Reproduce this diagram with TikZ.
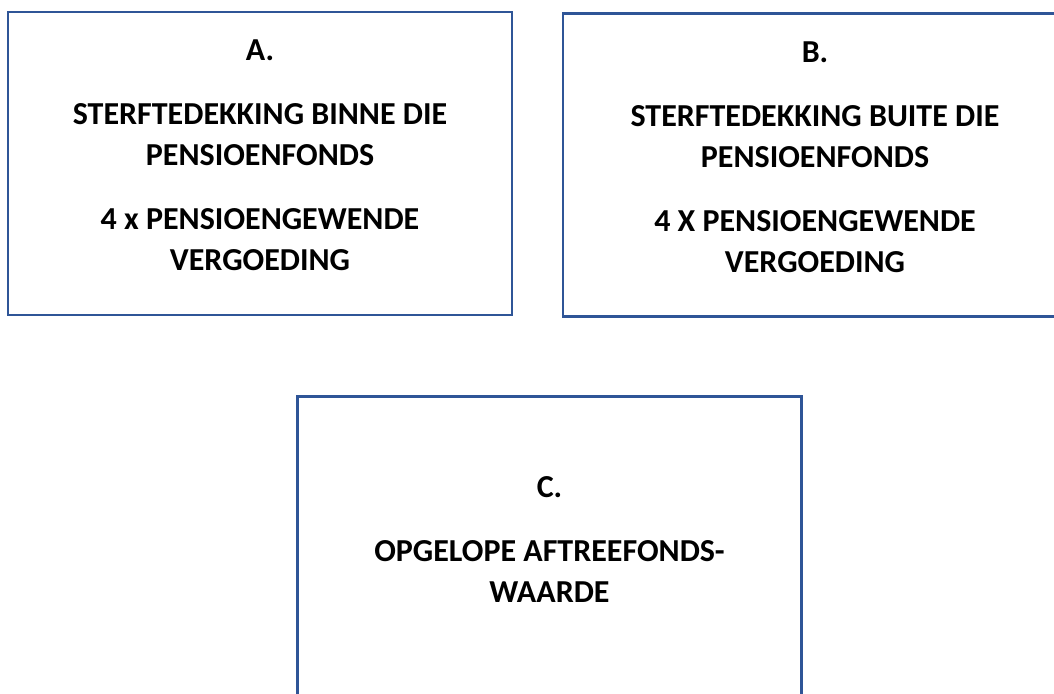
\documentclass[tikz,border=0pt]{standalone}
\usepackage{fontspec}
\setmainfont{Carlito}
\usetikzlibrary{positioning}
\definecolor{boxblue}{HTML}{2F5597}
\tikzstyle{frame} = [rectangle, draw=boxblue, line width=2.6pt, minimum width=504pt, minimum height=303pt, inner sep=0pt, outer sep=0pt]
\tikzstyle{label} = [align=center, inner sep=0pt, font=\bfseries\fontsize{32}{41}\selectfont]

\begin{document}
\begin{tikzpicture}[x=1pt, y=-1pt]
  \useasboundingbox (0,0) rectangle (1054,693);
  \clip (0,0) rectangle (1054,693);
  % Kaders
  \node (boxA) [frame] at (260,163.5) {};
  \node (boxB) [frame] at (815,165) {};
  \node (boxC) [frame] at (549.5,548) {};
  % Teks
  \node (textA) [label, below=28pt of boxA.north] {A.\\[23pt]STERFTEDEKKING BINNE DIE\\PENSIOENFONDS\\[23pt]4 x PENSIOENGEWENDE\\VERGOEDING};
  \node (textB) [label, below=28.5pt of boxB.north] {B.\\[23pt]STERFTEDEKKING BUITE DIE\\PENSIOENFONDS\\[23pt]4 X PENSIOENGEWENDE\\VERGOEDING};
  \node (textC) [label, below=80pt of boxC.north] {C.\\[23pt]OPGELOPE AFTREEFONDS-\\WAARDE};
\end{tikzpicture}
\end{document}
